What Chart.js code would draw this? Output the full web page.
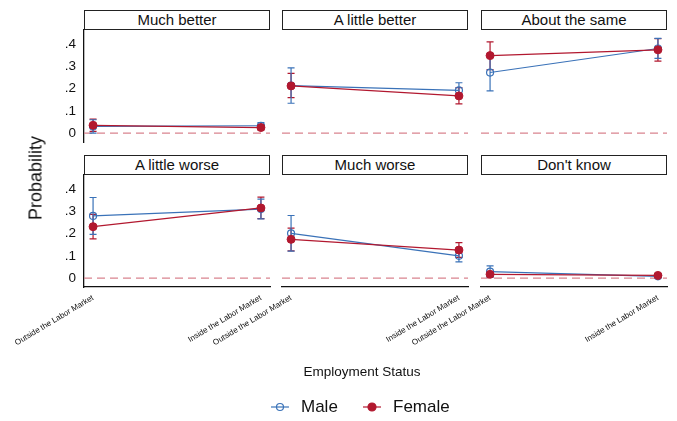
<!DOCTYPE html>
<html>
<head>
<meta charset="utf-8">
<script src="https://cdn.jsdelivr.net/npm/chart.js@4.4.1/dist/chart.umd.min.js"></script>
<style>
  html, body { margin: 0; padding: 0; background: #fff; }
  #fig { position: relative; width: 677px; height: 421px; overflow: hidden;
         font-family: 'Liberation Sans', Arial, sans-serif; color: #111; }
  #fig canvas { position: absolute; left: 0; top: 0; }
  .strip { position: absolute; box-sizing: border-box; border: 1px solid #222; background: #fff;
           text-align: center; font-size: 15px; line-height: 18px; white-space: nowrap; }
  .title { position: absolute; white-space: nowrap; transform: translate(-50%, -50%); }
  .leg { position: absolute; top: 398px; height: 18px; font-size: 17px; line-height: 18px; white-space: nowrap; }
  .leg svg { position: absolute; left: 0; top: 3px; }
</style>
</head>
<body>
<div id="fig"></div>
<script>
// Facet panels (response categories) and x categories
const panels = ['Much better', 'A little better', 'About the same', 'A little worse', 'Much worse', "Don't know"];
const statuses = ['Outside the Labor Market', 'Inside the Labor Market'];
const statusPos = [0, 1];
const yTicks = [0, 0.1, 0.2, 0.3, 0.4];

// Predicted probabilities and 95% CIs, one pair [outside, inside] per panel
const maleEst = [[0.030, 0.033], [0.213, 0.192], [0.272, 0.380], [0.279, 0.310], [0.201, 0.100], [0.029, 0.008]];
const maleLo  = [[0.000, 0.019], [0.134, 0.160], [0.190, 0.336], [0.196, 0.266], [0.121, 0.073], [0.003, 0.002]];
const maleHi  = [[0.060, 0.047], [0.293, 0.226], [0.354, 0.425], [0.362, 0.355], [0.281, 0.124], [0.055, 0.014]];
const femaleEst = [[0.035, 0.025], [0.212, 0.167], [0.348, 0.374], [0.231, 0.315], [0.174, 0.126], [0.017, 0.012]];
const femaleLo  = [[0.008, 0.014], [0.159, 0.131], [0.285, 0.323], [0.176, 0.267], [0.122, 0.093], [0.007, 0.005]];
const femaleHi  = [[0.063, 0.036], [0.268, 0.204], [0.410, 0.424], [0.286, 0.364], [0.224, 0.159], [0.027, 0.019]];

const W = 677, H = 421;
const FONT = "'Liberation Sans', Arial, sans-serif";
const BLUE = '#3a72b8';
const RED = '#b2182f';
const ZERO = '#d9848f';

// panel geometry
const colLeft = [84, 282, 481];
const stripTop = [10, 155];
const stripH = 20, plotW = 186, plotH = 112;
const yAxisW = 30, xAxisH = 60;
const yMin = -0.04, yMax = 0.463;
const xPad = 0.054;

const fig = document.getElementById('fig');

// zero reference line + error bars, drawn under the markers
const refAndErrors = {
  id: 'refAndErrors',
  beforeDatasetsDraw(chart) {
    const { ctx, chartArea, scales } = chart;
    const y0 = scales.y.getPixelForValue(0);
    ctx.save();
    ctx.strokeStyle = ZERO;
    ctx.lineWidth = 1.4;
    ctx.setLineDash([8, 5]);
    ctx.beginPath();
    ctx.moveTo(chartArea.left, y0);
    ctx.lineTo(chartArea.right, y0);
    ctx.stroke();
    ctx.setLineDash([]);
    chart.data.datasets.forEach(ds => {
      ctx.strokeStyle = ds.borderColor;
      ctx.lineWidth = 1.2;
      statusPos.forEach((v, j) => {
        const x = scales.x.getPixelForValue(v);
        const a = scales.y.getPixelForValue(ds.errLo[j]);
        const b = scales.y.getPixelForValue(ds.errHi[j]);
        ctx.beginPath();
        ctx.moveTo(x, a); ctx.lineTo(x, b);
        ctx.moveTo(x - 3.5, a); ctx.lineTo(x + 3.5, a);
        ctx.moveTo(x - 3.5, b); ctx.lineTo(x + 3.5, b);
        ctx.stroke();
      });
    });
    ctx.restore();
  }
};

panels.forEach((name, i) => {
  const r = Math.floor(i / 3), c = i % 3;
  const leftCol = c === 0, bottomRow = r === 1;
  const plotL = colLeft[c];
  const plotT = stripTop[r] + stripH;
  const plotB = plotT + plotH;

  const strip = document.createElement('div');
  strip.className = 'strip';
  strip.style.left = plotL + 'px';
  strip.style.top = stripTop[r] + 'px';
  strip.style.width = plotW + 'px';
  strip.style.height = stripH + 'px';
  strip.textContent = name;
  fig.appendChild(strip);

  const canvas = document.createElement('canvas');
  canvas.width = W; canvas.height = H;
  fig.appendChild(canvas);

  new Chart(canvas.getContext('2d'), {
    type: 'line',
    data: {
      datasets: [
        {
          label: 'Female',
          data: statusPos.map((x, j) => ({ x: x, y: femaleEst[i][j] })),
          errLo: femaleLo[i], errHi: femaleHi[i],
          borderColor: RED, backgroundColor: RED,
          pointBackgroundColor: RED, pointBorderColor: RED,
          borderWidth: 1.2, pointRadius: 4, pointBorderWidth: 1,
          order: 0
        },
        {
          label: 'Male',
          data: statusPos.map((x, j) => ({ x: x, y: maleEst[i][j] })),
          errLo: maleLo[i], errHi: maleHi[i],
          borderColor: BLUE, backgroundColor: 'rgba(0,0,0,0)',
          pointBackgroundColor: 'rgba(0,0,0,0)', pointBorderColor: BLUE,
          borderWidth: 1.2, pointRadius: 3.5, pointBorderWidth: 1.2,
          order: 1
        }
      ]
    },
    options: {
      responsive: false,
      animation: false,
      devicePixelRatio: 1,
      layout: {
        padding: {
          left: plotL - (leftCol ? yAxisW : 0),
          top: plotT,
          right: W - plotL - plotW,
          bottom: H - plotB - (bottomRow ? xAxisH : 0)
        }
      },
      plugins: { legend: { display: false }, tooltip: { enabled: false } },
      scales: {
        x: {
          type: 'linear',
          min: -xPad, max: 1 + xPad,
          display: bottomRow,
          grid: { display: false, drawTicks: false },
          border: { display: true, color: '#111', width: 1.3 },
          ticks: {
            minRotation: 31, maxRotation: 31, padding: 6, color: '#111',
            font: { size: 8, family: FONT },
            callback: v => statuses[v]
          },
          afterBuildTicks: s => { s.ticks = statusPos.map(v => ({ value: v })); },
          afterFit: s => { s.height = bottomRow ? xAxisH : 0; }
        },
        y: {
          min: yMin, max: yMax,
          display: leftCol,
          grid: { display: false, drawTicks: false },
          border: { display: true, color: '#111', width: 1.3 },
          ticks: {
            padding: 8, color: '#111',
            font: { size: 13.5, family: FONT },
            callback: v => v === 0 ? '0' : String(v).replace(/^0/, '')
          },
          afterBuildTicks: s => { s.ticks = yTicks.map(v => ({ value: v })); },
          afterFit: s => { s.width = leftCol ? yAxisW : 0; }
        }
      }
    },
    plugins: [refAndErrors]
  });
});

// axis titles
const yTitle = document.createElement('div');
yTitle.className = 'title';
yTitle.style.cssText = 'left:36px;top:178px;font-size:18px;transform:translate(-50%,-50%) rotate(-90deg);';
yTitle.textContent = 'Probability';
fig.appendChild(yTitle);

const xTitle = document.createElement('div');
xTitle.className = 'title';
xTitle.style.cssText = 'left:362px;top:371px;font-size:13.5px;';
xTitle.textContent = 'Employment Status';
fig.appendChild(xTitle);

// legend
function legendItem(left, label, color, filled) {
  const el = document.createElement('div');
  el.className = 'leg';
  el.style.left = left + 'px';
  el.style.paddingLeft = '30px';
  el.innerHTML = '<svg width="18" height="12"><line x1="0" y1="6" x2="18" y2="6" stroke="' + color +
    '" stroke-width="1.2"/><circle cx="9" cy="6" r="' + (filled ? 4 : 3.5) + '" fill="' +
    (filled ? color : 'none') + '" stroke="' + color + '" stroke-width="1.2"/></svg>';
  el.appendChild(document.createTextNode(label));
  fig.appendChild(el);
}
legendItem(271, 'Male', BLUE, false);
legendItem(363, 'Female', RED, true);
</script>
</body>
</html>
